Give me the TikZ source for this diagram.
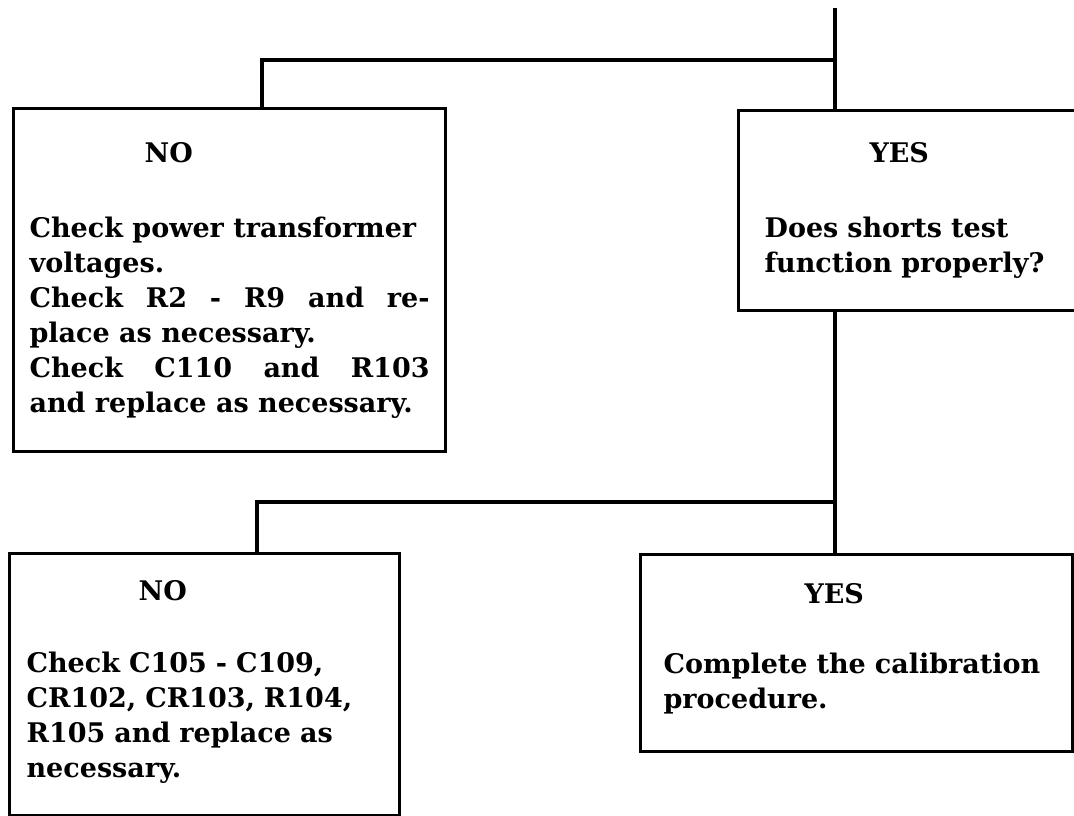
\documentclass[tikz,border=0pt]{standalone}
\usepackage{fontspec}
\setmainfont{DejaVu Serif}
\usepackage{tikz}

\begin{document}
\begin{tikzpicture}[x=1pt, y=-1pt, line width=3.2pt]
        % Define styles for the boxes and texts
        \tikzstyle{answerbox} = [rectangle, draw, anchor=north west, inner sep=0pt]
        \tikzstyle{answer} = [anchor=base west, inner sep=0pt, font=\fontsize{27}{35}\selectfont\bfseries]
        \tikzstyle{remedy} = [anchor=base west, inner sep=0pt, align=left, font=\fontsize{27}{35}\selectfont\bfseries]

        \useasboundingbox (0,0) rectangle (1074,815);

        % Boxes
        \node (nobox1) [answerbox, minimum width=432pt, minimum height=343pt] at (12,107) {};
        \node (yesbox1) [answerbox, minimum width=341pt, minimum height=200pt] at (737,109) {};
        \node (nobox2) [answerbox, minimum width=390pt, minimum height=262pt] at (8,552) {};
        \node (yesbox2) [answerbox, minimum width=432pt, minimum height=197pt] at (639,553) {};

        % Texts
        \node (no1) [answer] at (143,162) {NO};
        \node (no1text) [remedy, text width=400pt, align=justify] at (28,237) {Check power transformer\newline voltages.\newline Check R2 - R9 and re-\linebreak place as necessary.\newline Check C110 and R103\linebreak and replace as necessary.};
        \node (yes1) [answer] at (868,162) {YES};
        \node (yes1text) [remedy, text width=300pt] at (763,237) {Does shorts test\\function properly?};
        \node (no2) [answer] at (137,600) {NO};
        \node (no2text) [remedy, text width=360pt] at (25,672) {Check C105 - C109,\\CR102, CR103, R104,\\R105 and replace as\\necessary.};
        \node (yes2) [answer] at (803,603) {YES};
        \node (yes2text) [remedy, text width=400pt] at (662,673) {Complete the calibration\\procedure.};

        % Lines
        \coordinate (top) at (835,8);
        \coordinate (fork1) at (835,60);
        \coordinate (drop1) at (262,60);
        \coordinate (fork2) at (835,502);
        \coordinate (drop2) at (257,502);
        \draw (top) -- (top |- yesbox1.north);
        \draw (fork1) -- (drop1) -- (drop1 |- nobox1.north);
        \draw (yesbox1.south -| top) -- (yesbox2.north -| top);
        \draw (fork2) -- (drop2) -- (drop2 |- nobox2.north);
    \end{tikzpicture}
\end{document}
